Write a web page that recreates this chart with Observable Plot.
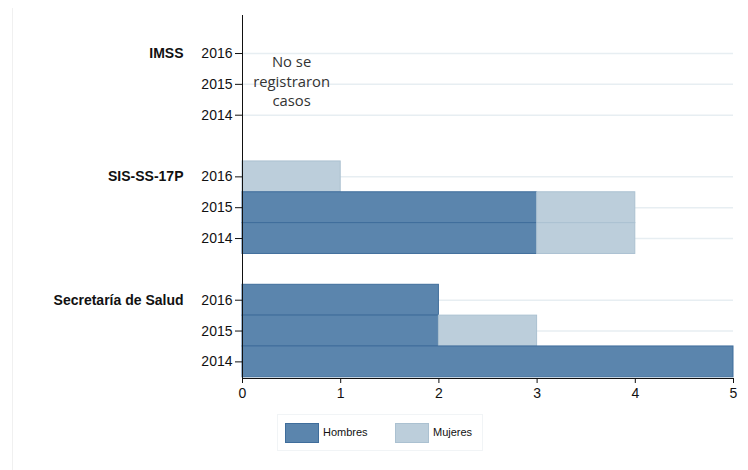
<!DOCTYPE html>
<html>
<head>
<meta charset="utf-8">
<script src="https://cdn.jsdelivr.net/npm/d3@7"></script>
<script src="https://cdn.jsdelivr.net/npm/@observablehq/plot@0.6"></script>
<style>
  body { margin: 0; background: #fff; font-family: "Liberation Sans", Arial, sans-serif; }
  #wrap { position: relative; width: 748px; height: 470px; overflow: hidden; }
  #chart { position: absolute; left: 0; top: 0; }
  #edge { position: absolute; left: 12px; top: 8px; width: 0; height: 470px; border-left: 1px solid #f0f0f0; }
  #legend { position: absolute; left: 277px; top: 414px; width: 206px; height: 37px; border: 1px solid #f1f4f6; box-sizing: border-box; font-size: 11px; color: #111; }
  .sw { position: absolute; top: 8px; width: 34px; height: 20px; box-sizing: border-box; }
  .lb { position: absolute; top: 11px; }
</style>
</head>
<body>
<div id="wrap">
  <div id="edge"></div>
  <div id="chart"></div>
  <div id="legend"></div>
</div>
<script>
const groups = ["IMSS", "SIS-SS-17P", "Secretaría de Salud"];
const years = ["2016", "2015", "2014"];
const hombres = [0, 0, 0, 0, 3, 3, 2, 2, 5];
const mujeres = [0, 0, 0, 1, 1, 1, 0, 1, 0];
const series = ["Hombres", "Mujeres"];
const colors = { Hombres: "#5b85ad", Mujeres: "#bccedb" };
const strokes = { Hombres: "#3f6d9b", Mujeres: "#abc1d1" };
const note = "No se\nregistraron\ncasos";

const key = (g, y) => g + "|" + y;
const domain = [];
groups.forEach((g, gi) => {
  if (gi > 0) domain.push("gap" + gi);
  years.forEach(y => domain.push(key(g, y)));
});

const data = [];
groups.forEach((g, gi) => {
  years.forEach((y, yi) => {
    const i = gi * 3 + yi;
    const h = hombres[i], m = mujeres[i];
    data.push({ key: key(g, y), sex: "Hombres", x1: 0, x2: h, v: h });
    data.push({ key: key(g, y), sex: "Mujeres", x1: h, x2: h + m, v: m });
  });
});
const bars = data.filter(d => d.v > 0);
const rows = domain.filter(k => !k.startsWith("gap"));
const noteRow = [{ text: note, x: 0.5, key: key(groups[0], years[1]) }];

const W = 748, H = 412, mL = 242, mR = 15, mT = 15, mB = 34;

const plot = Plot.plot({
  width: W, height: H,
  marginLeft: mL, marginRight: mR, marginTop: mT, marginBottom: mB,
  style: { fontFamily: "'Liberation Sans', Arial, sans-serif", fontSize: "14px", color: "#111", background: "transparent" },
  x: { domain: [0, 5], ticks: [0, 1, 2, 3, 4, 5] },
  y: { domain, padding: 0, round: false, insetTop: 22.6, insetBottom: 1.2 },
  marks: [
    Plot.ruleY(rows, { y: d => d, stroke: "#e7eef2", strokeWidth: 1.5 }),
    Plot.rectX(bars, { x1: "x1", x2: "x2", y: "key", fill: d => colors[d.sex], stroke: d => strokes[d.sex], strokeWidth: 1 }),
    Plot.ruleX([0], { stroke: "#111", strokeWidth: 1 }),
    Plot.axisY({ ticks: rows, tickFormat: k => k.split("|")[1], tickSize: 7, tickPadding: 3, fontSize: 14, label: null, stroke: "#111", fill: "#111" }),
    Plot.axisX({ tickSize: 5, tickPadding: 5, fontSize: 14, label: null, stroke: "#111", fill: "#111" }),
    Plot.text(groups, { x: () => 0, y: g => key(g, years[0]), text: d => d, dx: -59, textAnchor: "end", fontWeight: "bold", fontSize: 14, fill: "#111" }),
    Plot.text(noteRow, { x: "x", y: "key", text: "text", dy: -4, fontSize: 14.8, lineHeight: 1.33, fontFamily: "'Open Sans', sans-serif", fill: "#333" })
  ]
});

d3.select(plot).append("line")
  .attr("x1", mL).attr("x2", W - mR)
  .attr("y1", H - mB + 0.5).attr("y2", H - mB + 0.5)
  .attr("stroke", "#111").attr("stroke-width", 1);

document.getElementById("chart").appendChild(plot);

const leg = document.getElementById("legend");
const pos = [{ s: 7, l: 45 }, { s: 117, l: 155 }];
series.forEach((s, i) => {
  const sw = document.createElement("div");
  sw.className = "sw";
  sw.style.left = pos[i].s + "px";
  sw.style.background = colors[s];
  sw.style.border = "1px solid " + strokes[s];
  leg.appendChild(sw);
  const lb = document.createElement("div");
  lb.className = "lb";
  lb.style.left = pos[i].l + "px";
  lb.textContent = s;
  leg.appendChild(lb);
});
</script>
</body>
</html>
